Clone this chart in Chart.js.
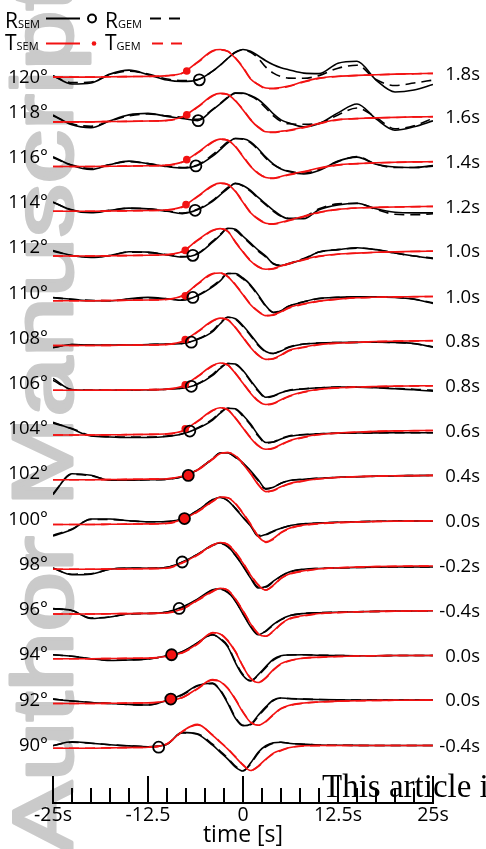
<!DOCTYPE html>
<html>
<head>
<meta charset="utf-8">
<script src="https://cdn.jsdelivr.net/npm/chart.js@4.4.1/dist/chart.umd.min.js"></script>
<style>
  html, body { margin: 0; padding: 0; background: #fff; }
  #wrap { width: 486px; height: 849px; }
</style>
</head>
<body>
<div id="wrap"><canvas id="record" width="486" height="849"></canvas></div>
<script>
/* ---------------------------------------------------
   Record section data (amplitudes)
---------------------------------------------------*/

const distances = [120, 118, 116, 114, 112, 110, 108, 106, 104, 102, 100, 98, 96, 94, 92, 90];
const shiftLabels = ["1.8s", "1.6s", "1.4s", "1.2s", "1.0s", "1.0s", "0.8s", "0.8s",
                     "0.6s", "0.4s", "0.0s", "-0.2s", "-0.4s", "0.0s", "0.0s", "-0.4s"];

const times = [-25, -22.5, -20, -17.5, -15, -12.5, -10, -8, -6, -4, -3, -2, -1, 0,
               1, 2, 3, 4, 5, 6, 8, 10, 12.5, 15, 17.5, 20, 22.5, 25];

const tickValues = [-25, -12.5, 0, 12.5, 25];
const tickLabels = ["-25s", "-12.5", "0", "12.5s", "25s"];

// R component, SEM (black solid)
const rSem = [
    [1.5,-7,-6,3,7,2.5,-3, -4.5,-3,6,12,19,25,27.8, 26,21.5,16.5,12.5,9.5,7.5,4, 3.5,14,16,-3,-15,-13,-7.5],
    [7,-3,-6,1,7,8.5,5.5, 3.5,1.2,12,18,24.5,29,29, 26.5,22.5,16,8,2,-1,-5, -2,9,18,3,-8.5,-5,1],
    [10,1,-3,2,5.5,3,0, -1.5,1,10.5,17,24,28.4,28, 25,18,9.5,2.5,-2.5,-5,-7.5, -4,5.5,9.5,2.3,-0.5,-1,1],
    [9.4,1,-1.5,1,3.2,2.5,0, -2.3,1.5,10,16.5,23,28.2,26, 21,14,7.5,1,-4.5,-7.5,-7.5, 1.5,6.5,8.2,2.5,-1,-1.6,-1.6],
    [5.7,0.5,-1.5,0.5,4.4,4,1, -1,2,14,21,28,27,20, 13,6,0,-8,-9.5,-8,-3, 4,6.5,8.4,6.5,3,0,-2.6],
    [3.4,1.5,0,0,2,3.4,2, 0.5,5,14,20,27.5,27.5,23, 16,6,-5,-12,-10,-5.5,-1, 2.5,3.5,4,4,3.4,1.5,-2.6],
    [-2.3,1,0.5,0.5,0.5,1,1.5, 2,6,14,22,28.5,27,20, 11,1,-6,-8,-5.5,-2,1.5, 2.5,3,3.2,3.4,3.2,2,-1.6],
    [12,0.5,0,0,0.3,0.5,1, 2,6,15,22,27,26.5,20, 10,0,-7,-5.5,-2.5,-0.5,1.3, 2.5,3.3,3.2,2.6,1.5,0.5,-1],
    [13,6,-1,-2,-2.5,-2.5,-1.5, 1,6.5,15,22,27,26.5,20, 11,0,-7.5,-7,-4,-1.5,0.3, 1.3,1.8,2,2.2,2.3,2.3,2.3],
    [-15,6,4.5,-0.5,-0.5,0,0.5, 3,10,21,27,27,23,17, 9,0,-9,-7.5,-3.5,-1,0.5, 1.5,2.5,3,3.5,4,4.2,4.4],
    [-11.6,-5,5.5,5.5,3.8,2.7,3, 5.5,14,25,27.5,24,16,7, -1.5,-12,-10,-6.5,-3.8,-1.5,0.7, 1.5,2.3,2.8,3.2,3.4,3.6,3.7],
    [1.3,-5.5,-5,0,1.2,1,2, 7.3,15,24.5,26.5,23,14,3, -9,-19,-17.5,-12,-7,-3,0, 0.8,1.3,1.7,2,2.2,2.3,2.3],
    [5.6,3.5,-4.5,-3,0.3,0.5,2, 7,15,24.5,25.5,22,13,0, -13,-21,-17,-10.5,-5.5,-2,0.5, 1.2,1.8,2.3,2.6,2.9,3.1,3.3],
    [4,2.5,0,-1.8,-1.3,-0.3,3, 7,16,24.5,20,12,-4,-17, -22.5,-16,-8,-0.5,3,3.8,4, 3.5,3.2,3,3,3.2,3.3,3.3],
    [4.4,2.5,1,0,-1,-1.6,3, 9,18,20.5,13,0,-15,-22.5, -21,-12,-3.5,3.5,5.5,5,4.4, 4,3.6,3.4,3.4,3.4,3.4,3.4],
    [2.7,6.5,5,3.5,2.3,1.5,4, 16,14,3,-4,-11,-19,-23, -15,-4,2.5,5.5,6,5,4, 3.2,3,2.8,2.7,2.7,2.7,2.7]
];

// R component, GEM (black dashed)
const rGem = [
    [1,-5.5,-5,2.5,6,3,-2, -3.5,-2.5,6,12,19,25,27.5, 25,19,10,4,0.5,-1,-1.2, 1.5,9,12,-2.5,-8.5,-6,-3],
    [6,-2,-4.5,1,6,8,6, 4.5,2.5,12.5,18.5,25,29,28.5, 26,21.5,14,6,0.5,-2,-2.5, -1.5,7,14,4.5,-7,-4,3.5],
    [9,1.5,-2,2,5,3,0.5, -1,1.5,12,18.5,25,28.4,27.5, 24,17,8.5,2,-2,-4.5,-6.5, -3,5,10,2.5,-1,-1,0.5],
    [9,1.5,-1,1,3,2.5,0.5, -1.8,2,11,17.5,24,28,25.5, 20,13,6.5,0,-5,-7,-5.5, 2.5,7.5,8,2,-3,-3.5,-2.5],
    [5,0.5,-1,0.5,4,3.5,1.5, -0.5,2.5,15,22,27.5,26,19, 12,5,-1,-7.5,-9.5,-7.5,-2.5, 4,6.5,8,6.5,3,0,-2],
    [3,1.5,0.5,0,1.5,3,2, 1,5.5,15,21,27.5,27,22, 15,5,-5.5,-11.5,-10,-5.5,-1, 2,3.5,4,4,3.5,1.8,-2],
    [-1.8,1,0.5,0.5,0.5,1,1.5, 2,6.5,15,23,28.5,26.5,19, 10,0,-6.5,-8,-5,-1.5,1.5, 2.5,3,3.2,3.3,3.1,1.8,-1.2],
    [10,0.8,0.2,0,0.3,0.5,1, 2.3,6.5,16,23,27,26,19.5, 9,-1,-7.5,-6,-2.5,0,1.5, 2.5,3.2,3.2,2.8,2,1,0],
    [12,6.5,-0.5,-1.5,-2,-2,-1, 1.3,7,16,23,27,26,19, 10,-1,-8,-7,-3.5,-1,0.5, 1.3,1.8,2,2.2,2.3,2.3,2.3],
    [-14,5.5,4,-0.3,-0.5,0,0.5, 3,10,21.5,27,27,22.5,16, 8,-1,-9.5,-7.5,-3.5,-1,0.5, 1.5,2.5,3,3.5,4,4.2,4.4],
    [-11,-4.5,5,5,3.8,2.7,3, 5.5,14,25,27.3,24,16.5,7.5, -1,-11,-10.5,-7,-4,-1.5,0.7, 1.5,2.3,2.8,3.2,3.4,3.6,3.7],
    [1,-5,-4.5,0,1,1,2, 7,15,24,26,22.5,14,3.5, -8,-18,-18,-12.5,-7,-3,0, 0.8,1.3,1.7,2,2.2,2.3,2.3],
    [5,3.5,-4,-3,0,0.5,2, 6.5,14.5,24,25,21.5,13,0.5, -12,-20,-17.5,-11,-6,-2,0.5, 1.2,1.8,2.3,2.6,2.9,3.1,3.3],
    [4,2.5,0,-1.5,-1.2,-0.3,3, 7,16,24,20.5,13,-3,-16, -22,-17,-9,-1.5,2.5,3.8,4, 3.5,3.2,3,3,3.2,3.3,3.3],
    [4.4,2.5,1,0,-1,-1.6,3, 8.5,17.5,20,13.5,1,-14,-22, -21.5,-13,-4.5,3,5.5,5,4.4, 4,3.6,3.4,3.4,3.4,3.4,3.4],
    [2.5,6,5,3.5,2.3,1.5,4, 15.5,14.5,4,-3,-10,-18,-22.5, -16,-5,1.5,5,6,5,4, 3.2,3,2.8,2.7,2.7,2.7,2.7]
];

// T component, SEM (red solid)
const tSem = [
    [0,0,0,0.3,0.5,0.7,1.5, 4,15,26.5,27.8,26,19,9.5, -2,-7.5,-11,-11.2,-10.5,-9,-4.5, -1,0.8,1.7,2.4,3,3.4,3.8],
    [0,0,0,0.3,0.5,0.8,1.5, 5,15,26.5,28.7,27.5,21,12, 2,-5.5,-10,-10.3,-9.5,-8.5,-5.5, -1.5,2.3,3.3,4,4.5,5,5.3],
    [0,0,0,0.3,0.5,0.8,1.5, 4.5,14,25,27.7,26.5,20,10, 0,-7,-11,-11.6,-10,-8,-5, -1.5,1.7,3,3.8,4.3,4.7,5],
    [0,0,0,0.3,0.5,0.8,1.5, 4.5,15,26,28.4,27,20,9, -1.5,-8,-12,-12.6,-11,-9,-5, -1,2,3.4,4,4.4,4.7,5],
    [0,0,0,0.3,0.5,0.8,1.5, 4.5,16,26,27.7,25,14,4, -5,-11,-13.3,-12.5,-10,-7.5,-3.5, 0,2,3,3.8,4.3,4.7,5],
    [0,0,0,0.3,0.5,0.8,1.5, 5,17,27.5,28,24.5,16,6, -4,-11,-15,-14,-11,-7,-3, -0.3,1.7,3,3.6,4,4.2,4.4],
    [0,0,0,0.2,0.4,0.6,1.2, 4,14,25,27.7,26,18,8, -2,-10,-14,-13,-9.5,-5,-1.5, 1,2.5,3.3,4,4.4,4.7,5],
    [0,0,0,0.2,0.4,0.6,1.2, 4,14,25,27.5,25.5,17,7, -3,-11,-14.4,-13,-9.5,-6,-1.5, 1,2.5,3.3,3.8,4.2,4.4,4.6],
    [0,0,0,0.2,0.4,0.6,1.2, 4,14,25,27.5,25.5,17,7, -3,-11,-14.4,-13,-9.5,-6,-2, 0.5,2,3,3.7,4.2,4.4,4.6],
    [0,0,0,0.2,0.4,0.6,1, 3.5,10,21,26.5,27.5,24,16, 6,-5,-12,-10.5,-7,-4,-1, 1,2.5,3.2,3.7,4,4.2,4.4],
    [0,0,0,0.2,0.4,0.6,1.2, 5,13,23.5,27.7,27,21,11, 0,-12,-17.5,-14,-8,-4,-0.5, 1,2,2.6,3,3.3,3.5,3.7],
    [0,0,0,0.2,0.4,0.6,1.2, 6.5,14.5,24.5,27,25,17,6, -6,-16,-21,-16,-9,-5,-1.5, 0.5,1.5,2.2,2.7,3,3.2,3.3],
    [0,0,0,0.2,0.4,0.6,1.2, 5,14,23,26,24,15,3, -10,-20,-22.5,-17,-10,-5,-1.5, 0.5,1.5,2.2,2.6,2.9,3.1,3.3],
    [0,0,0,0.2,0.4,0.6,2.5, 6,15,26.5,25,18,7,-8, -20,-24,-19,-11,-5,-2,0.8, 1.5,2.3,2.8,3,3.2,3.3,3.3],
    [0,0,0,0.2,0.4,0.6,2.5, 6,15,24,22,15,4,-9, -19,-22,-18,-11,-5,-2,0.5, 1.5,2.3,2.8,3,3.2,3.3,3.4],
    [0,0,0,0.3,0.6,1,4.5, 17,24,13,6,-1,-9,-17, -22.5,-18,-11,-5,-2,0.5,2.5, 2.7,2.7,2.7,2.7,2.7,2.7,2.7]
];

// T component, GEM (red dashed)
const tGem = [
    [0,0,0,0.3,0.5,0.7,1.3, 3.8,14.5,26,27.5,26,19.5,10, -1.5,-7.5,-11.5,-11.8,-11,-9.5,-5, -1.3,0.6,1.6,2.3,2.9,3.3,3.7],
    [0,0,0,0.3,0.5,0.8,1.3, 4.8,14.5,26,28.5,27.5,21.5,12.5, 2.5,-5,-10,-10.8,-10,-9,-6, -2,2,3.2,4,4.4,4.9,5.2],
    [0,0,0,0.3,0.5,0.8,1.3, 4.3,13.5,24.5,27.5,26.5,20.5,10.5, 0.5,-6.5,-11,-12,-10.5,-8.5,-5.5, -2,1.5,2.9,3.7,4.2,4.6,4.9],
    [0,0,0,0.3,0.5,0.8,1.3, 4.2,14.5,25.5,28,27,20.5,9.5, -1,-7.5,-12,-13,-11.5,-9.5,-5.5, -1.3,1.8,3.3,3.9,4.3,4.6,4.9],
    [0,0,0,0.3,0.5,0.8,1.3, 4.3,15.5,25.5,27.5,25,14.5,4.5, -4.5,-10.5,-13.5,-13,-10.5,-8,-4, -0.5,1.8,2.9,3.7,4.2,4.6,4.9],
    [0,0,0,0.3,0.5,0.8,1.3, 4.7,16.5,27,28,24.5,16.5,6.5, -3.5,-10.5,-15,-14.5,-11.5,-7.5,-3.5, -0.5,1.5,2.9,3.5,3.9,4.1,4.3],
    [0,0,0,0.2,0.4,0.6,1, 3.8,13.5,24.5,27.5,26,18.5,8.5, -1.5,-9.5,-14,-13.5,-10,-5.5,-2, 0.8,2.3,3.2,3.9,4.3,4.6,4.9],
    [0,0,0,0.2,0.4,0.6,1, 3.8,13.5,24.5,27.3,25.5,17.5,7.5, -2.5,-10.5,-14.5,-13.5,-10,-6.5,-2, 0.8,2.3,3.2,3.7,4.1,4.3,4.5],
    [0,0,0,0.2,0.4,0.6,1, 3.8,13.5,24.5,27.3,25.5,17.5,7.5, -2.5,-10.5,-14.5,-13.5,-10,-6.5,-2.5, 0.3,1.8,2.9,3.6,4.1,4.3,4.5],
    [0,0,0,0.2,0.4,0.6,1, 3.3,9.5,20.5,26.5,27.5,24.5,16.5, 6.5,-4.5,-12,-11,-7.5,-4.5,-1.3, 0.8,2.3,3.1,3.6,3.9,4.1,4.3],
    [0,0,0,0.2,0.4,0.6,1, 4.8,12.5,23,27.5,27,21.5,11.5, 0.5,-11.5,-18,-15,-8.5,-4.5,-0.8, 0.8,1.8,2.5,3,3.3,3.5,3.7],
    [0,0,0,0.2,0.4,0.6,1, 6.3,14,24,26.8,25,17.5,6.5, -5.5,-15.5,-21,-16.5,-9.5,-5.5,-2, 0.3,1.4,2.1,2.6,2.9,3.1,3.2],
    [0,0,0,0.2,0.4,0.6,1, 4.8,13.5,22.5,25.8,24,15.5,3.5, -9.5,-19.5,-22.5,-17.5,-10.5,-5.5,-2, 0.3,1.4,2.1,2.5,2.8,3,3.2],
    [0,0,0,0.2,0.4,0.6,2.3, 5.8,14.5,26,25,18.5,7.5,-7.5, -19.5,-24,-19.5,-11.5,-5.5,-2.5,0.5, 1.4,2.2,2.7,3,3.2,3.3,3.3],
    [0,0,0,0.2,0.4,0.6,2.3, 5.8,14.5,23.5,22,15.5,4.5,-8.5, -18.5,-22,-18.5,-11.5,-5.5,-2.5,0.3, 1.4,2.2,2.7,3,3.2,3.3,3.4],
    [0,0,0,0.3,0.6,1,4.3, 16.5,23.5,13.5,6.5,-0.5,-8.5,-16.5, -22.5,-18.5,-11.5,-5.5,-2.5,0.3,2.3, 2.6,2.7,2.7,2.7,2.7,2.7,2.7]
];

// onset picks: circles on R, dots on T (null = no dot drawn)
const rPickT = [-5.75, -5.9, -6.2, -6.3, -6.6, -6.6, -6.8, -6.8, -7, -7.2, -7.7, -8, -8.4, -9.4, -9.5, -11.1];
const rPickV = [-2.8, 1.2, 0.7, 1, 0.7, 3.4, 3.4, 4, 4, 4.4, 6, 7.3, 5.6, 4, 4.4, 1];
const tPickT = [-7.4, -7.4, -7.4, -7.5, -7.6, -7.6, -7.6, -7.6, -7.6, -7.2, -7.7, null, null, -9.4, -9.5, null];
const tPickV = [6.2, 7, 7, 6.7, 5.7, 5, 6, 5.6, 6.3, 4.4, 6, null, null, 4, 4.4, null];

/* ---------------------------------------------------
   Build datasets
---------------------------------------------------*/

const RED = "#f21212";
const degPerUnit = 1 / 22.57;   // trace amplitude unit -> degrees on the y axis

function trace(row, d, color, dash, order) {
    return {
        data: row.map((v, k) => ({ x: times[k], y: d + v * degPerUnit })),
        borderColor: color,
        borderWidth: 1.6,
        borderDash: dash,
        pointRadius: 0,
        cubicInterpolationMode: "monotone",
        fill: false,
        order: order
    };
}

const datasets = [];

distances.forEach((d, i) => {
    datasets.push(trace(rGem[i], d, "#000", [10, 6], 4));
    datasets.push(trace(rSem[i], d, "#000", [], 4));
    datasets.push(trace(tGem[i], d, RED, [10, 6], 3));
    datasets.push(trace(tSem[i], d, RED, [], 3));
});

const tDots = [];
const tDotSize = [];
distances.forEach((d, i) => {
    if (tPickT[i] === null) return;
    tDots.push({ x: tPickT[i], y: d + tPickV[i] * degPerUnit });
    tDotSize.push(Math.abs(tPickT[i] - rPickT[i]) < 0.3 ? 5.5 : 3.8);
});

datasets.push({
    data: tDots,
    showLine: false,
    pointRadius: tDotSize,
    pointBackgroundColor: RED,
    pointBorderWidth: 0,
    order: 2
});

datasets.push({
    data: distances.map((d, i) => ({ x: rPickT[i], y: d + rPickV[i] * degPerUnit })),
    showLine: false,
    pointRadius: 5.5,
    pointBorderWidth: 1.8,
    pointBorderColor: "#000",
    pointBackgroundColor: "rgba(0,0,0,0)",
    order: 1
});

/* ---------------------------------------------------
   Decorations
---------------------------------------------------*/

const watermark = {
    id: "watermark",
    beforeDraw(chart) {
        const ctx = chart.ctx;
        ctx.save();
        ctx.fillStyle = "#cacaca";
        ctx.strokeStyle = "#cacaca";
        ctx.lineWidth = 3;
        ctx.lineJoin = "round";
        ctx.font = '86px "Liberation Sans"';
        ctx.translate(72, 853);
        ctx.rotate(-Math.PI / 2);
        ctx.scale(1.25, 1);
        ctx.textBaseline = "alphabetic";
        ctx.fillText("Author Manuscript", 0, 0);
        ctx.strokeText("Author Manuscript", 0, 0);
        ctx.restore();
    }
};

function subLabel(ctx, main, sub, x, y) {
    ctx.font = '21px "Open Sans"';
    ctx.fillText(main, x, y);
    const w = ctx.measureText(main).width;
    ctx.font = '11px "Open Sans"';
    ctx.fillText(sub, x + w, y);
}

const overlay = {
    id: "overlay",
    afterDraw(chart) {
        const ctx = chart.ctx;
        const xs = chart.scales.x;
        const ys = chart.scales.y;
        const bottom = chart.chartArea.bottom;

        ctx.save();

        // inward ticks every 2.5 s
        ctx.strokeStyle = "#000";
        ctx.lineWidth = 2;
        for (let t = -25; t <= 25; t += 2.5) {
            const px = Math.round(xs.getPixelForValue(t));
            const len = (t % 12.5 === 0) ? 27 : 15;
            ctx.beginPath();
            ctx.moveTo(px, bottom);
            ctx.lineTo(px, bottom - len);
            ctx.stroke();
        }

        // distance labels (left) and time shifts (right)
        ctx.fillStyle = "#000";
        ctx.font = '18.5px "Open Sans"';
        ctx.textBaseline = "middle";
        distances.forEach((d, i) => {
            const base = ys.getPixelForValue(d);
            const lift = i === 0 ? -1 : 9.5 - 0.49 * (i - 1);
            ctx.textAlign = "right";
            ctx.fillText(d + "°", 48, base - lift);
            const endY = ys.getPixelForValue(d + tSem[i][tSem[i].length - 1] * degPerUnit);
            ctx.fillText(shiftLabels[i], 480, endY + 1);
        });

        // legend
        ctx.textAlign = "left";
        ctx.textBaseline = "alphabetic";
        subLabel(ctx, "R", "SEM", 5, 28);
        subLabel(ctx, "R", "GEM", 105, 28);
        subLabel(ctx, "T", "SEM", 5, 50);
        subLabel(ctx, "T", "GEM", 105, 50);

        ctx.lineWidth = 2;
        ctx.strokeStyle = "#000";
        ctx.beginPath(); ctx.moveTo(46, 18.5); ctx.lineTo(80, 18.5); ctx.stroke();
        ctx.beginPath(); ctx.arc(92, 18.5, 4, 0, Math.PI * 2); ctx.stroke();
        ctx.setLineDash([11, 8]);
        ctx.beginPath(); ctx.moveTo(150, 18.5); ctx.lineTo(184, 18.5); ctx.stroke();

        ctx.strokeStyle = RED;
        ctx.setLineDash([]);
        ctx.beginPath(); ctx.moveTo(46, 43.5); ctx.lineTo(80, 43.5); ctx.stroke();
        ctx.fillStyle = RED;
        ctx.beginPath(); ctx.arc(94, 43.5, 2.3, 0, Math.PI * 2); ctx.fill();
        ctx.setLineDash([11, 8]);
        ctx.beginPath(); ctx.moveTo(152, 43.5); ctx.lineTo(184, 43.5); ctx.stroke();
        ctx.setLineDash([]);

        // page text crossing the axis
        ctx.fillStyle = "#000";
        ctx.font = '33px "Liberation Serif"';
        ctx.fillText("This article i", 322, 797);

        ctx.restore();
    }
};

/* ---------------------------------------------------
   Chart
---------------------------------------------------*/

new Chart(document.getElementById("record"), {
    type: "line",
    data: { datasets: datasets },
    options: {
        responsive: false,
        animation: false,
        events: [],
        layout: { padding: { left: 53, right: 53, top: 0, bottom: 0 } },
        plugins: {
            legend: { display: false },
            tooltip: { enabled: false },
            title: { display: false }
        },
        scales: {
            x: {
                type: "linear",
                position: "bottom",
                min: -25,
                max: 25,
                afterBuildTicks: (scale) => {
                    scale.ticks = tickValues.map(v => ({ value: v }));
                },
                afterFit: (scale) => { scale.height = 46; },
                grid: { display: false, drawTicks: false },
                border: { display: true, color: "#000", width: 2 },
                ticks: {
                    autoSkip: false,
                    maxRotation: 0,
                    padding: 1,
                    color: "#000",
                    font: { family: "Open Sans", size: 19.5 },
                    callback: (value, index) => tickLabels[index]
                },
                title: {
                    display: true,
                    text: "time [s]",
                    color: "#000",
                    font: { family: "Open Sans", size: 23 },
                    padding: { top: 0, bottom: 0 }
                }
            },
            y: {
                type: "linear",
                display: false,
                min: 87.55,
                max: 123.12
            }
        }
    },
    plugins: [watermark, overlay]
});
</script>
</body>
</html>
